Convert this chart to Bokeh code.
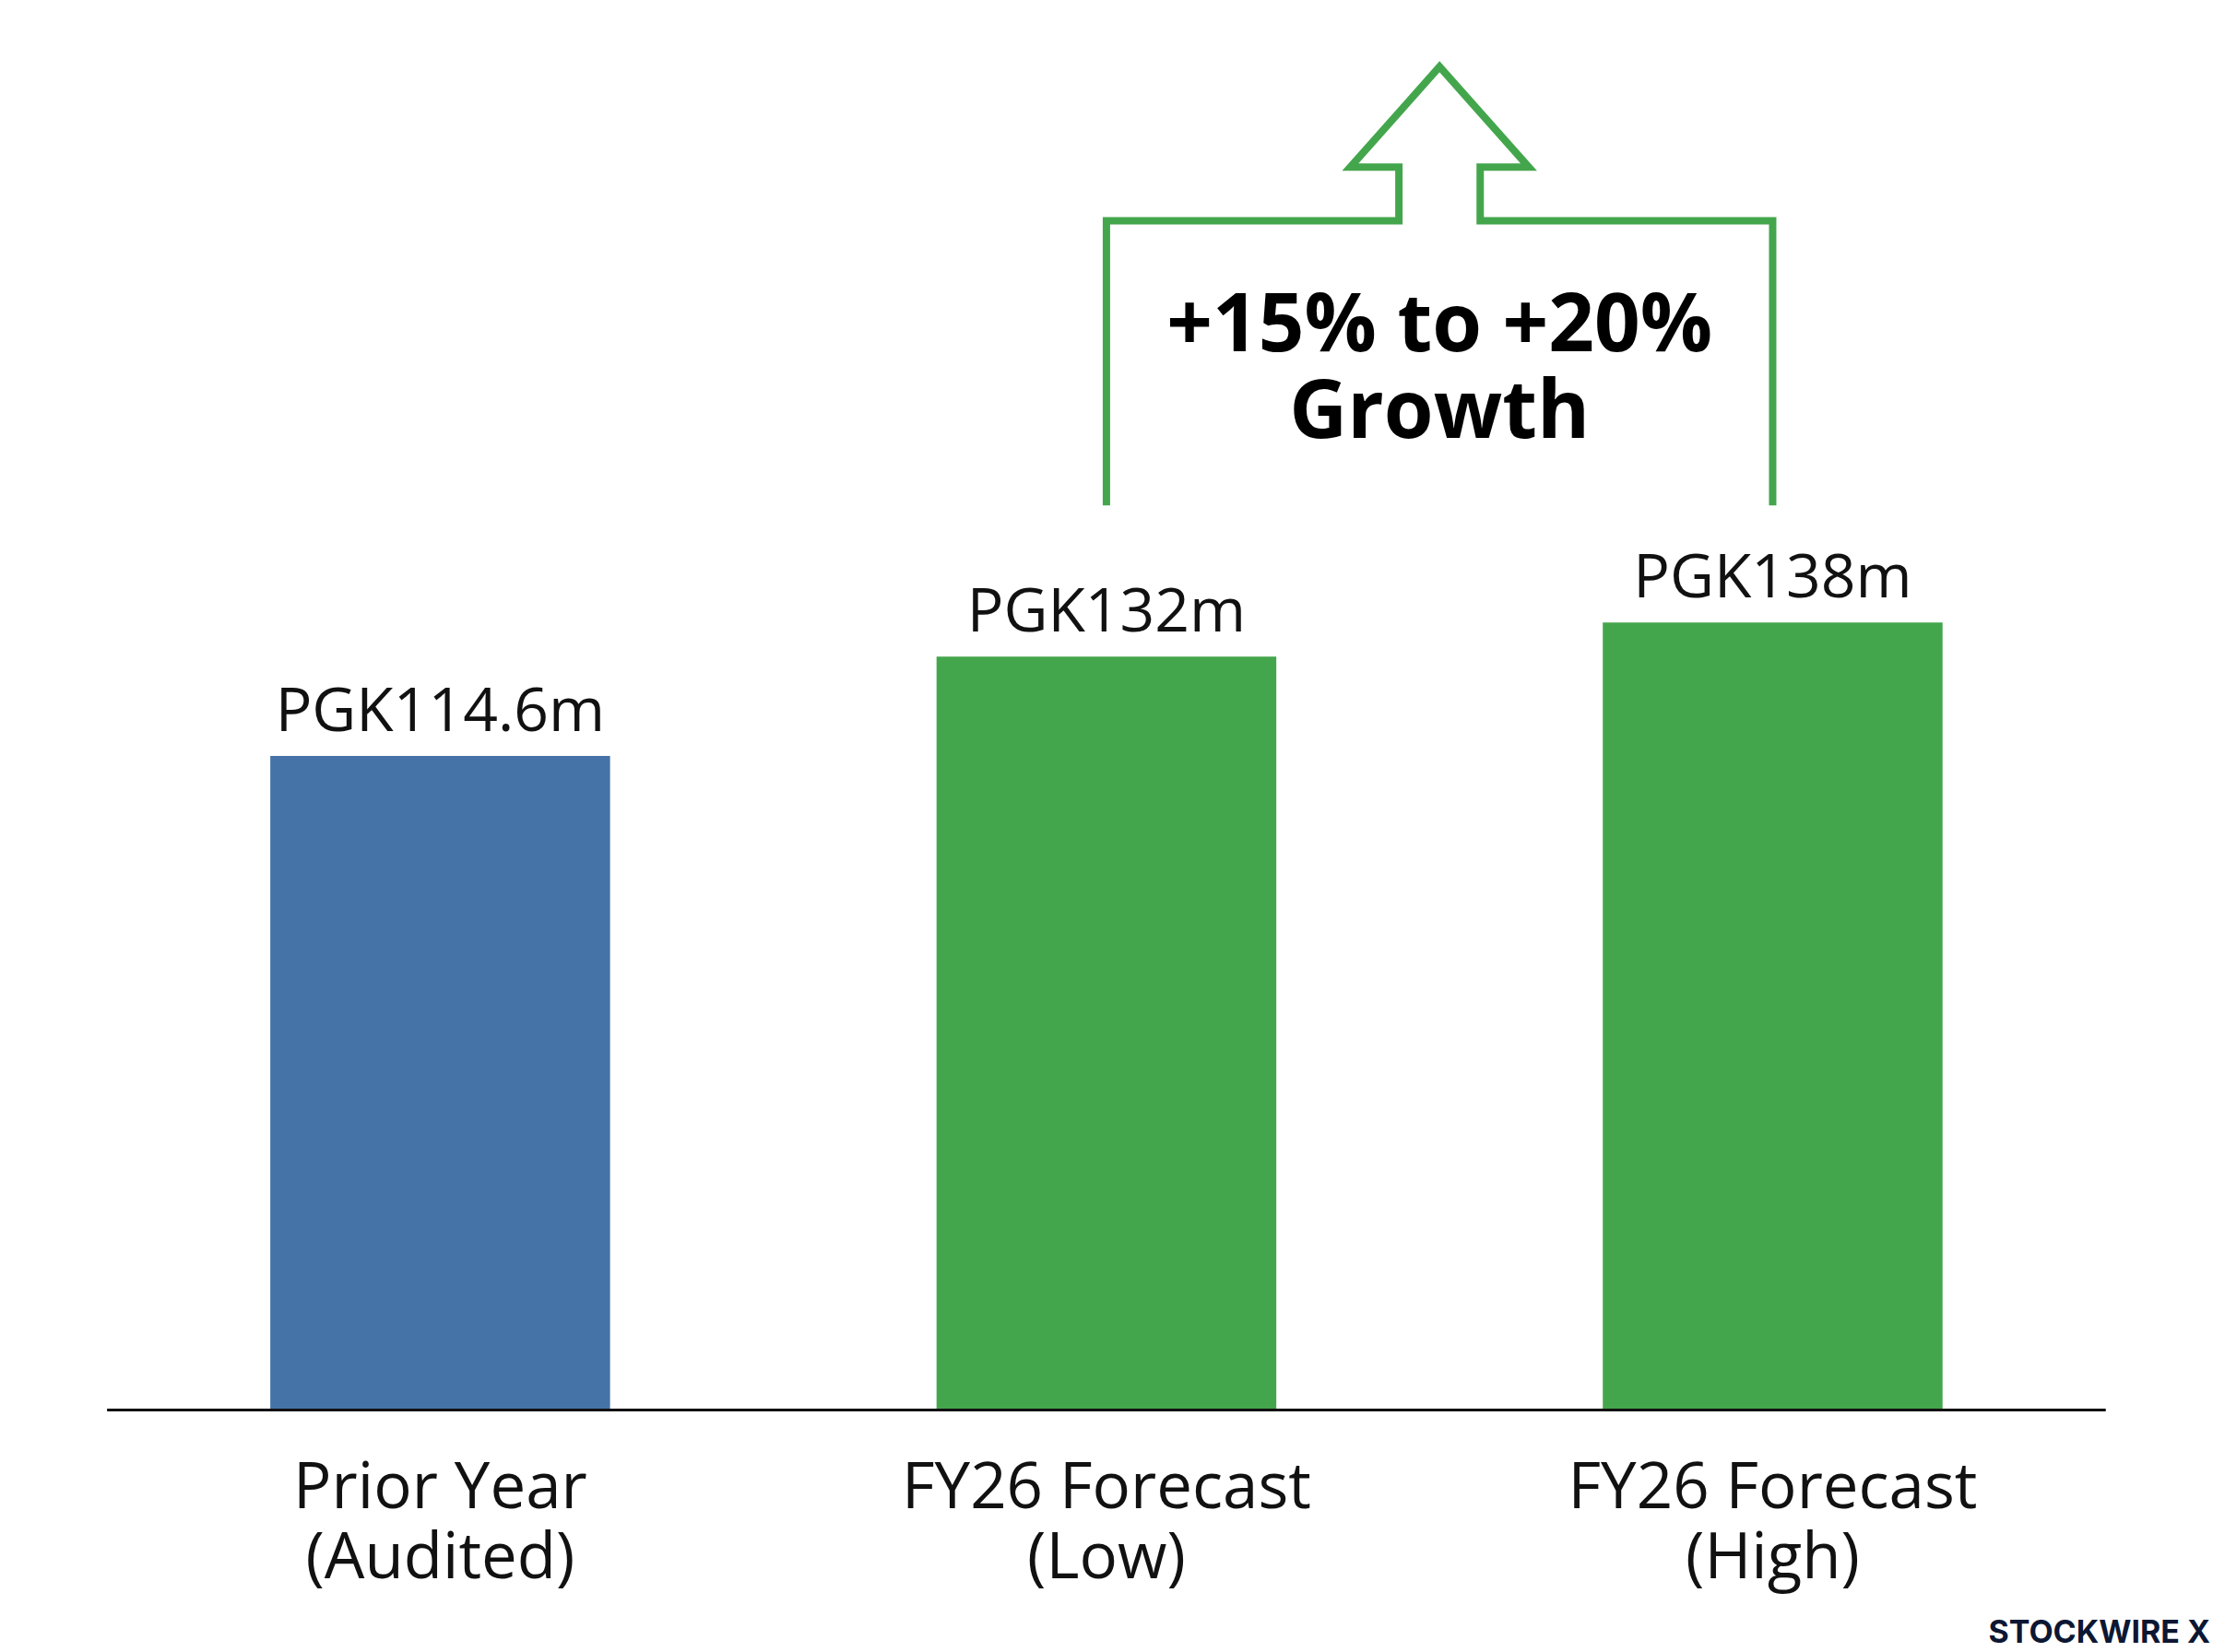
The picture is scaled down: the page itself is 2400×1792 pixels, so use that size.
from bokeh.plotting import figure
from bokeh.models import Range1d
from bokeh.core.properties import value
from bokeh.embed import file_html
from bokeh.resources import INLINE

# --- data -------------------------------------------------------------
categories = ["Prior Year\n(Audited)", "FY26 Forecast\n(Low)", "FY26 Forecast\n(High)"]
revenue_m = [114.6, 132, 138]
bar_colors = ["#4573a7", "#44a64c", "#44a64c"]
growth_lines = ["+15% to +20%", "Growth"]
brand = "STOCKWIRE X"

value_labels = [f"PGK{v:g}m" for v in revenue_m]
xs = list(range(len(categories)))
cat_line1 = [c.split("\n")[0] for c in categories]
cat_line2 = [c.split("\n")[1] for c in categories]

# --- styling / layout constants --------------------------------------
GREEN = "#44a64c"
LABEL_FONT = value("Open Sans")
BAR_WIDTH = 0.51
LABEL_GAP = 8.6            # value label centre above bar top (data units)
CAT_Y1, CAT_Y2 = -12.9, -25.2

# growth bracket drawn between the two forecast bars
LOW_I, HIGH_I = 1, 2
BRACKET_BOTTOM = 158.5
BRACKET_TOP = 208.4
SHAFT_TOP = 217.8
APEX = 235.4
SHAFT_HALF = 0.061
HEAD_HALF = 0.134

p = figure(
    width=2400, height=1792,
    x_range=Range1d(-0.66, 2.6616), y_range=Range1d(-42.5, 247.0),
    x_axis_type=None, y_axis_type=None,
    min_border=0, outline_line_color=None,
    toolbar_location=None, output_backend="svg",
    background_fill_color="white", border_fill_color="white",
)
p.xgrid.visible = False
p.ygrid.visible = False

# bars
p.vbar(x=xs, top=revenue_m, bottom=0, width=BAR_WIDTH,
       fill_color=bar_colors, line_color=None)

# baseline
p.segment(x0=[-0.5], y0=[0], x1=[len(xs) - 0.5], y1=[0],
          line_color="#111111", line_width=3)

# value labels
p.text(x=xs, y=[v + LABEL_GAP for v in revenue_m], text=value_labels,
       text_align="center", text_baseline="middle",
       text_font=LABEL_FONT, text_font_size="66px", text_color="#111111")

# category labels, two lines each
for y, lines in ((CAT_Y1, cat_line1), (CAT_Y2, cat_line2)):
    p.text(x=xs, y=[y] * len(xs), text=lines,
           text_align="center", text_baseline="middle",
           text_font=LABEL_FONT, text_font_size="69px", text_color="#111111")

# growth bracket with upward arrow
xa, xb = xs[LOW_I], xs[HIGH_I]
xm = (xa + xb) / 2
path_x = [xa, xa, xm - SHAFT_HALF, xm - SHAFT_HALF, xm - HEAD_HALF, xm,
          xm + HEAD_HALF, xm + SHAFT_HALF, xm + SHAFT_HALF, xb, xb]
path_y = [BRACKET_BOTTOM, BRACKET_TOP, BRACKET_TOP, SHAFT_TOP, SHAFT_TOP, APEX,
          SHAFT_TOP, SHAFT_TOP, BRACKET_TOP, BRACKET_TOP, BRACKET_BOTTOM]
p.line(path_x, path_y, line_color=GREEN, line_width=8, line_join="miter")

# growth annotation
p.text(x=[xm, xm], y=[191.1, 175.8], text=growth_lines,
       text_align="center", text_baseline="middle",
       text_font=LABEL_FONT, text_font_style="bold", text_font_size="87px",
       text_color="#000000")

# brand mark
p.text(x=[2.657], y=[-38.8], text=[brand],
       text_align="right", text_baseline="middle",
       text_font=value("Inter"), text_font_style="bold", text_font_size="34px",
       text_color="#0d1733")

open("out.html", "w").write(file_html(p, INLINE))
